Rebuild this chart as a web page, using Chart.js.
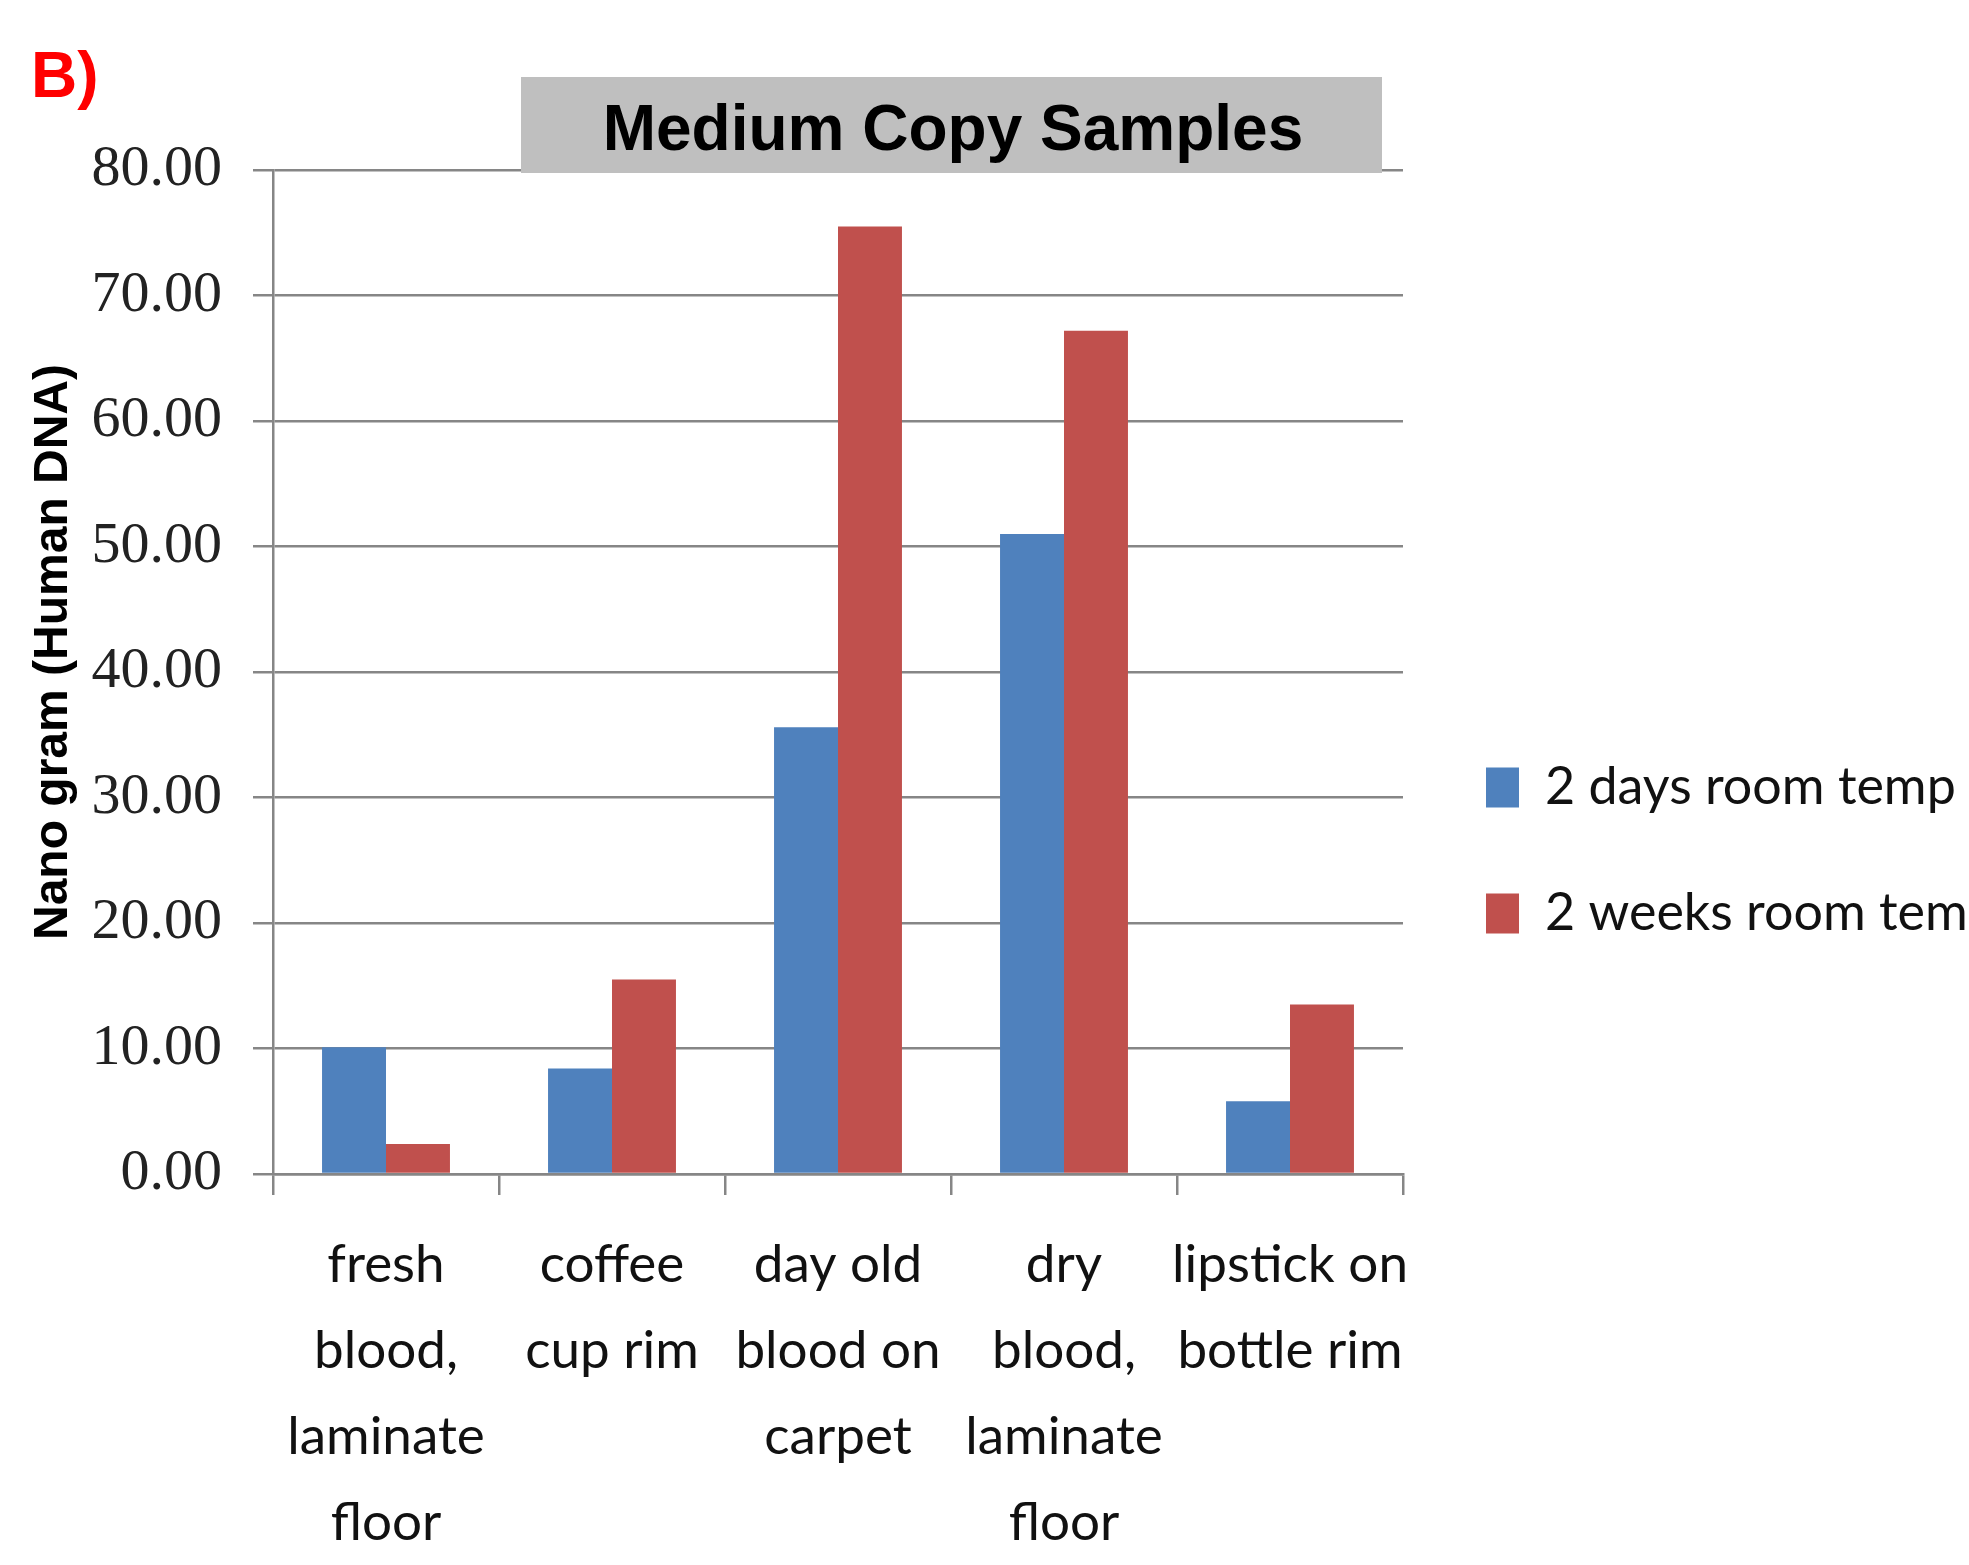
<!DOCTYPE html>
<html>
<head>
<meta charset="utf-8">
<title>Medium Copy Samples</title>
<script src="https://cdn.jsdelivr.net/npm/chart.js@4.4.1/dist/chart.umd.min.js"></script>
<style>
  html, body { margin: 0; padding: 0; background: #fff; }
  #wrap { width: 1969px; height: 1565px; }
</style>
</head>
<body>
<div id="wrap"><canvas id="chart" width="1969" height="1565"></canvas></div>
<script>
const categories = [
  ["fresh", "blood,", "laminate", "floor"],
  ["coffee", "cup rim"],
  ["day old", "blood on", "carpet"],
  ["dry", "blood,", "laminate", "floor"],
  ["lipstick on", "bottle rim"]
];
const seriesNames = ["2 days room temp", "2 weeks room temp"];
const twoDays = [10.1, 8.4, 35.6, 51.0, 5.8];
const twoWeeks = [2.4, 15.5, 75.5, 67.2, 13.5];
const yTicks = [0, 10, 20, 30, 40, 50, 60, 70, 80];

const gridGray = "#868686";
const labelFont = "Lato, 'Open Sans', sans-serif";

// gray title box, title text and the panel letter, drawn over the grid
const titleBox = {
  id: "titleBox",
  afterDraw(chart) {
    const ctx = chart.ctx;
    ctx.save();
    ctx.fillStyle = "#bfbfbf";
    ctx.fillRect(521, 77, 861, 96);
    ctx.fillStyle = "#000";
    ctx.font = "bold 64px 'Liberation Sans', Arial, sans-serif";
    ctx.textAlign = "center";
    ctx.textBaseline = "alphabetic";
    ctx.fillText("Medium Copy Samples", 953, 150);
    ctx.fillStyle = "#ff0000";
    ctx.textAlign = "left";
    ctx.fillText("B)", 31, 97);
    ctx.restore();
  }
};

new Chart(document.getElementById("chart"), {
  type: "bar",
  data: {
    labels: categories,
    datasets: [
      { label: seriesNames[0], data: twoDays, backgroundColor: "#4f81bd" },
      { label: seriesNames[1], data: twoWeeks, backgroundColor: "#c0504d" }
    ]
  },
  options: {
    responsive: false,
    animation: false,
    layout: { padding: { top: 170, bottom: 0, left: 0, right: 0 } },
    datasets: { bar: { categoryPercentage: 0.566, barPercentage: 1.0 } },
    scales: {
      x: {
        grid: { offset: true, drawOnChartArea: false, drawTicks: true, tickLength: 21, color: gridGray, lineWidth: 2.5 },
        border: { color: gridGray, width: 2.5 },
        ticks: {
          font: { family: labelFont, size: 53, lineHeight: 1.62 },
          color: "#111",
          padding: 27,
          maxRotation: 0,
          autoSkip: false
        },
        afterFit(scale) { scale.height = 391; }
      },
      y: {
        min: 0,
        max: 80,
        afterBuildTicks(scale) { scale.ticks = yTicks.map(v => ({ value: v })); },
        grid: { color: gridGray, lineWidth: 2.5, tickLength: 20 },
        border: { color: gridGray, width: 2.5 },
        ticks: {
          font: { family: "'Liberation Serif', 'Times New Roman', serif", size: 58 },
          color: "#222",
          padding: 31,
          callback: v => v.toFixed(2)
        },
        title: {
          display: true,
          text: "   Nano gram (Human DNA)",
          color: "#000",
          font: { family: "'Liberation Sans', Arial, sans-serif", size: 48, weight: "bold", lineHeight: 1 },
          padding: { top: 30, bottom: 0 }
        },
        afterFit(scale) { scale.width = 273; }
      },
      gap: {
        type: "linear",
        position: "right",
        display: true,
        grid: { display: false },
        border: { display: false },
        ticks: { display: false },
        afterFit(scale) { scale.width = 9; }
      }
    },
    plugins: {
      tooltip: { enabled: false },
      title: { display: false },
      legend: {
        position: "right",
        align: "center",
        fullSize: false,
        maxWidth: 557,
        title: {
          display: true,
          text: " ",
          color: "rgba(0,0,0,0)",
          font: { size: 10, lineHeight: 1 },
          padding: { top: 347, bottom: 0 }
        },
        labels: {
          boxWidth: 33,
          boxHeight: 40,
          padding: 74,
          color: "#111",
          font: { family: labelFont, size: 52 }
        }
      }
    }
  },
  plugins: [titleBox]
});
</script>
</body>
</html>
